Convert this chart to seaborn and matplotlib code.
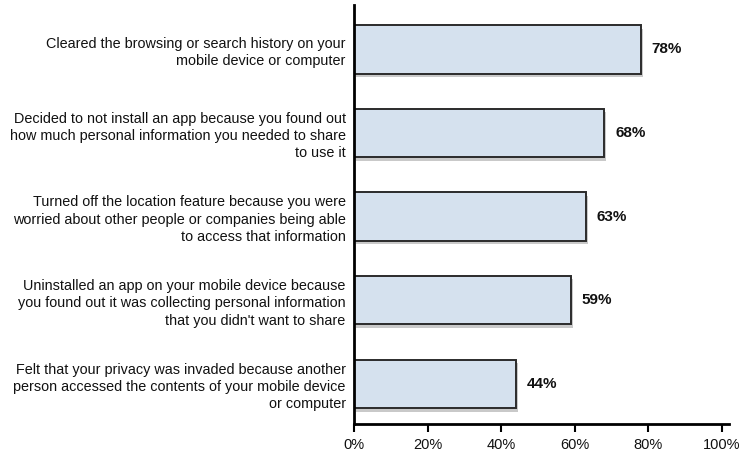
import matplotlib
matplotlib.use("Agg")
import matplotlib.pyplot as plt
import matplotlib.patheffects as pe
import seaborn as sns
import pandas as pd

actions = [
    "Cleared the browsing or search history on your\nmobile device or computer",
    "Decided to not install an app because you found out\nhow much personal information you needed to share\nto use it",
    "Turned off the location feature because you were\nworried about other people or companies being able\nto access that information",
    "Uninstalled an app on your mobile device because\nyou found out it was collecting personal information\nthat you didn't want to share",
    "Felt that your privacy was invaded because another\nperson accessed the contents of your mobile device\nor computer",
]
shares = [78, 68, 63, 59, 44]
x_ticks = [0, 20, 40, 60, 80, 100]
x_tick_labels = ["0%", "20%", "40%", "60%", "80%", "100%"]

df = pd.DataFrame({"action": actions, "share": shares})

sns.set_theme(style="white")
plt.rcParams["font.family"] = ["Liberation Sans", "DejaVu Sans"]

fig = plt.figure(figsize=(7.5, 4.53), dpi=100)
ax = fig.add_axes([0.472, 0.064, 0.5, 0.925])

sns.barplot(data=df, x="share", y="action", orient="h", ax=ax,
            color="#d5e1ee", saturation=1, width=0.58,
            edgecolor="#2b2b2b", linewidth=1.4)

# soft drop shadow beneath each bar
for bar in ax.patches:
    bar.set_path_effects([
        pe.SimplePatchShadow(offset=(1.5, -2.5), shadow_rgbFace="#666666", alpha=0.35),
        pe.Normal(),
    ])

for i, v in enumerate(shares):
    ax.text(v + 3.0, i, f"{v}%", va="center", ha="left",
            fontsize=11, fontweight="bold", color="#111111")

ax.set_xlim(0, 102)
ax.set_ylim(4.48, -0.53)
ax.set_xticks(x_ticks)
ax.set_xticklabels(x_tick_labels, fontsize=10.5, color="#111111")
ax.set_xlabel("")
ax.set_ylabel("")
ax.tick_params(axis="y", length=0, pad=6, labelsize=10.4, labelcolor="#111111")
ax.tick_params(axis="x", direction="out", length=6, width=1.5, color="black",
               bottom=True, pad=4)
for lbl in ax.get_yticklabels():
    lbl.set_multialignment("right")
    lbl.set_linespacing(1.3)

for side in ("top", "right"):
    ax.spines[side].set_visible(False)
for side in ("left", "bottom"):
    ax.spines[side].set_color("black")
    ax.spines[side].set_linewidth(2)

fig.savefig("out.png", dpi=100, facecolor="white")
